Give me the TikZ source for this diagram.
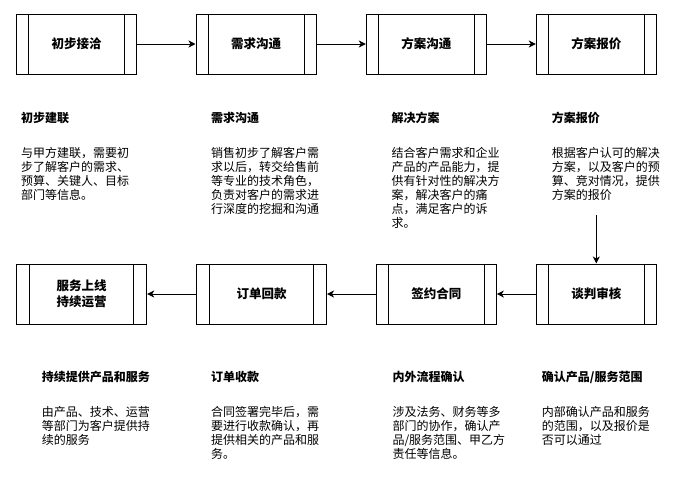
\documentclass[tikz,border=0pt]{standalone}
\usepackage{fontspec}
\setmainfont{Noto Sans CJK SC}
\usetikzlibrary{arrows.meta}
\begin{document}
\begin{tikzpicture}[x=1pt,y=-1pt,
  conn/.style={line width=1pt,-{Stealth[length=7pt,width=7pt,inset=2pt]}},
  procbox/.style={draw,line width=1pt,minimum height=60pt,inner sep=0pt,
    font=\fontsize{12.5}{15.5}\selectfont\bfseries,align=center,
    path picture={
      \draw[line width=1pt] ([xshift=#1]path picture bounding box.north west) -- ([xshift=#1]path picture bounding box.south west);
      \draw[line width=1pt] ([xshift=-#1]path picture bounding box.north east) -- ([xshift=-#1]path picture bounding box.south east);
    }},
  procbox/.default=12pt,
  headtxt/.style={anchor=north west,inner sep=0pt,font=\fontsize{12}{14}\selectfont\bfseries},
  bodytxt/.style={anchor=north west,inner sep=0pt,align=left,font=\fontsize{12}{14}\selectfont}]
\useasboundingbox (0,0) rectangle (688,483);
% top row
\node[procbox,minimum width=120pt] (b1) at (76.5,44) {初步接洽};
\node[procbox,minimum width=120pt] (b2) at (256,44) {需求沟通};
\node[procbox,minimum width=120pt] (b3) at (426.3,44) {方案沟通};
\node[procbox,minimum width=120pt] (b4) at (596.3,44) {方案报价};
% bottom row
\node[procbox=13pt,minimum width=130pt] (c1) at (81.7,294) {服务上线\\持续运营};
\node[procbox=13pt,minimum width=130pt] (c2) at (261.5,294) {订单回款};
\node[procbox,minimum width=120pt] (c3) at (436.3,294) {签约合同};
\node[procbox,minimum width=120pt] (c4) at (596.3,294) {谈判审核};
\coordinate (vstart) at (596.3,215);
% connectors
\draw[conn] (b1) -- (b2);
\draw[conn] (b2) -- (b3);
\draw[conn] (b3) -- (b4);
\draw[conn] (vstart) -- (c4);
\draw[conn] (c4) -- (c3);
\draw[conn] (c3) -- (c2);
\draw[conn] (c2) -- (c1);
% texts row 1
\node[headtxt] (h1) at (21,112) {初步建联};
\node[bodytxt] (t1) at (21,147) {与甲方建联，需要初\\步了解客户的需求、\\预算、关键人、目标\\部门等信息。};
\node[headtxt] (h2) at (211,112) {需求沟通};
\node[bodytxt] (t2) at (211,147) {销售初步了解客户需\\求以后，转交给售前\\等专业的技术角色，\\负责对客户的需求进\\行深度的挖掘和沟通};
\node[headtxt] (h3) at (391.3,112) {解决方案};
\node[bodytxt] (t3) at (391.3,147) {结合客户需求和企业\\产品的产品能力，提\\供有针对性的解决方\\案，解决客户的痛\\点，满足客户的诉\\求。};
\node[headtxt] (h4) at (551.7,112) {方案报价};
\node[bodytxt] (t4) at (551.7,147) {根据客户认可的解决\\方案，以及客户的预\\算、竞对情况，提供\\方案的报价};
% texts row 2
\node[headtxt] (h5) at (41.7,371) {持续提供产品和服务};
\node[bodytxt] (t5) at (41.7,406) {由产品、技术、运营\\等部门为客户提供持\\续的服务};
\node[headtxt] (h6) at (211,371) {订单收款};
\node[bodytxt] (t6) at (211,406) {合同签署完毕后，需\\要进行收款确认，再\\提供相关的产品和服\\务。};
\node[headtxt] (h7) at (392.3,371) {内外流程确认};
\node[bodytxt] (t7) at (392.3,406) {涉及法务、财务等多\\部门的协作，确认产\\品/服务范围、甲乙方\\责任等信息。};
\node[headtxt] (h8) at (541.7,371) {确认产品/服务范围};
\node[bodytxt] (t8) at (541.7,406) {内部确认产品和服务\\的范围，以及报价是\\否可以通过};
\end{tikzpicture}
\end{document}
